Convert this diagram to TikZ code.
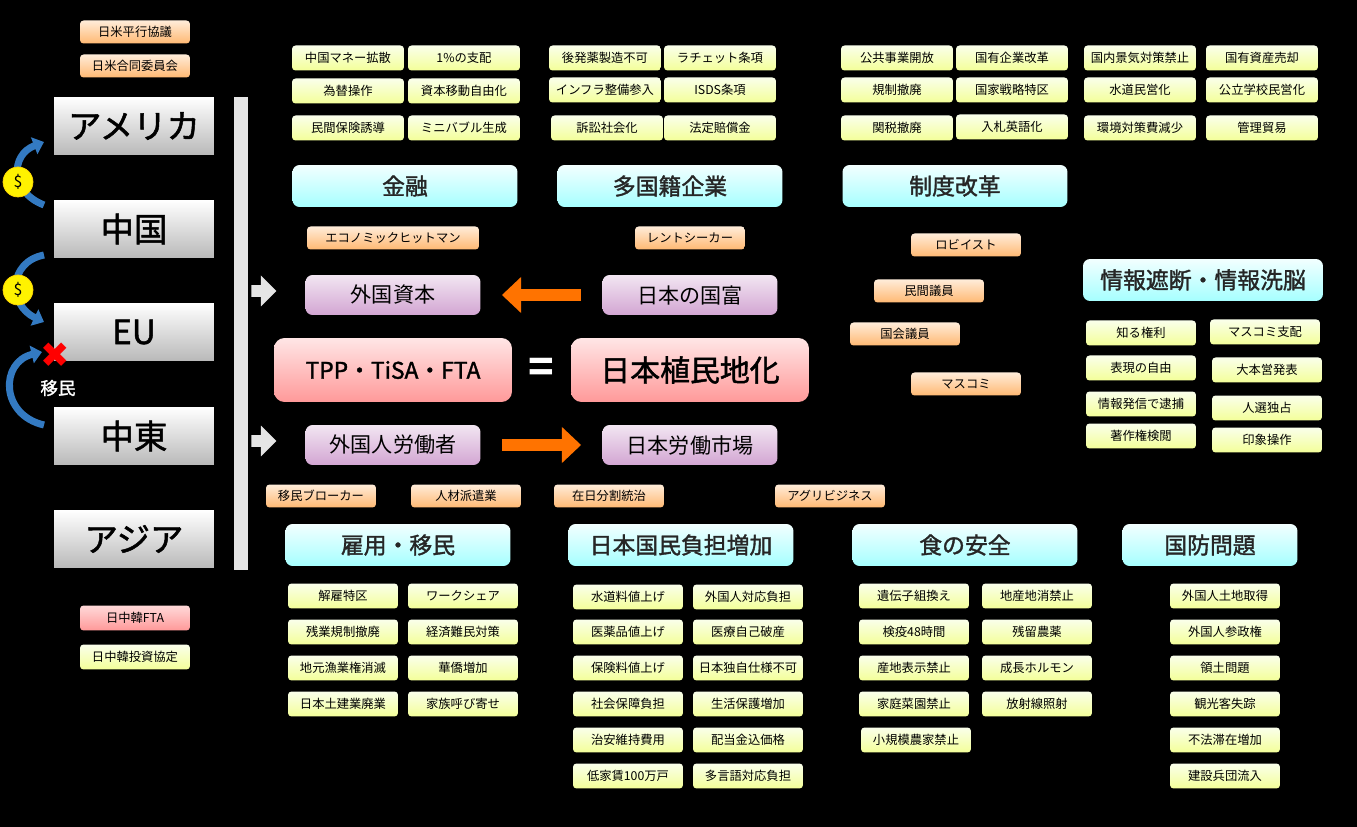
\documentclass[tikz,border=0pt]{standalone}
\usepackage{fontspec}
\setmainfont{Noto Sans CJK JP}
\newfontfamily\jpbold[FakeBold=1.5]{Noto Sans CJK JP}
\newfontfamily\dejavu{DejaVu Sans}
\usetikzlibrary{arrows.meta,shapes.arrows}
\tikzset{
	box/.style={rounded corners=2pt, minimum height=0.5cm, minimum width=2.24cm, inner sep=0pt, font=\fontsize{7}{7}\selectfont, text=black},
	item/.style={box, top color=lime!8!white, bottom color=lime!45!yellow!40},
	actor/.style={box, minimum width=2.2cm, minimum height=0.46cm, top color=orange!15, bottom color=orange!55},
	topic/.style={rounded corners=4pt, minimum width=4.5cm, minimum height=0.84cm, top color=cyan!5, bottom color=cyan!35, font=\jpbold\fontsize{13}{13}\selectfont, text=black!85},
	side/.style={rounded corners=4pt, minimum width=3.5cm, minimum height=0.8cm, top color=violet!10, bottom color=violet!35, font=\fontsize{12}{12}\selectfont},
	big/.style={rounded corners=6pt, minimum width=4.76cm, minimum height=1.28cm, top color=red!10, bottom color=red!40, font=\jpbold\fontsize{13}{13}\selectfont},
	nation/.style={minimum width=3.2cm, minimum height=1.16cm, top color=white, bottom color=gray!55, font=\jpbold\fontsize{19}{19}\selectfont},
	coin/.style={circle, fill=yellow, draw=yellow!70!orange, minimum size=0.6cm, inner sep=0pt, font=\fontsize{9}{9}\selectfont},
	flow/.style={-{Triangle[length=6pt,width=10pt]}, line width=4pt, color=blue!50!cyan!70!black!80},
	push/.style={-{Triangle[length=11pt,width=20pt]}, line width=7pt, orange!90!red, shorten >=12pt, shorten <=12pt},
	block/.style={single arrow, fill=gray!20, minimum height=0.5cm, minimum width=0.62cm, inner sep=1pt, single arrow head extend=2pt}
}
\begin{document}
\begin{tikzpicture}[x=0.02cm, y=-0.02cm]
	\fill[black] (0,0) rectangle (1357,827);
	\useasboundingbox (0,0) rectangle (1357,827);

	%left column
	\node[actor] (heiko) at (135,32){日米平行協議};
	\node[actor] (godo) at (135,66){日米合同委員会};
	\foreach \y/\t/\n in {126/アメリカ/us, 229/中国/cn, 332/EU/eu, 436/中東/me, 539/アジア/as}{
		\node[nation] (\n) at (134,\y){\t};
	}
	\node[box, minimum width=2.2cm, top color=red!15, bottom color=red!40] (fta) at (135,618){日中韓FTA};
	\node[item, minimum width=2.2cm] (invest) at (135,657){日中韓投資協定};
	\fill[gray!20] (234,97) rectangle (248,570);
	\node[block] (blk1) at (261,291){};
	\node[block] (blk2) at (261,441){};

	%money and migration
	\coordinate (a1) at (44,205);
	\coordinate (a2) at (44,142);
	\coordinate (a3) at (44,322);
	\coordinate (a4) at (44,255);
	\coordinate (a5) at (44,425);
	\coordinate (a6) at (42,352);
	\draw[flow] (a1) .. controls (10,192) and (10,155) .. (a2);
	\draw[flow] (a4) .. controls (8,262) and (8,305) .. (a3);
	\draw[flow] (a5) .. controls (0,415) and (0,362) .. (a6);
	\node[coin] (c1) at (18,182){\$};
	\node[coin] (c2) at (18,290){\$};
	\node[text=red, font=\dejavu\fontsize{20}{20}\selectfont] (ng) at (55,355){✖};
	\node[text=white, font=\jpbold\fontsize{10}{10}\selectfont] (imin) at (58,388){移民};

	%top items
	\foreach \x/\y/\t/\n in {
		348/58/中国マネー拡散/t1, 464/58/1\%の支配/t2, 605/58/後発薬製造不可/t3, 720/58/ラチェット条項/t4,
		897/58/公共事業開放/t5, 1012/58/国有企業改革/t6, 1140/58/国内景気対策禁止/t7, 1262/58/国有資産売却/t8,
		348/91/為替操作/t9, 464/91/資本移動自由化/t10, 605/90/インフラ整備参入/t11, 720/90/ISDS条項/t12,
		897/90/規制撤廃/t13, 1012/90/国家戦略特区/t14, 1140/90/水道民営化/t15, 1262/90/公立学校民営化/t16,
		348/128/民間保険誘導/t17, 464/128/ミニバブル生成/t18, 607/128/訴訟社会化/t19, 720/128/法定賠償金/t20,
		897/128/関税撤廃/t21, 1012/127/入札英語化/t22, 1140/128/環境対策費減少/t23, 1262/128/管理貿易/t24}{
		\node[item] (\n) at (\x,\y){\t};
	}

	%topics
	\node[topic] (kinyu) at (405,186){金融};
	\node[topic] (tako) at (670,186){多国籍企業};
	\node[topic] (seido) at (955,186){制度改革};
	\node[topic, minimum width=4.8cm] (joho) at (1203,280){情報遮断・情報洗脳};
	\node[topic] (koyo) at (398,545){雇用・移民};
	\node[topic] (futan) at (681,545){日本国民負担増加};
	\node[topic] (shoku) at (965,545){食の安全};
	\node[topic, minimum width=3.5cm] (kokubo) at (1210,545){国防問題};

	%actors
	\foreach \x/\y/\t/\n/\w in {393/238/エコノミックヒットマン/hit/3.44, 690/238/レントシーカー/rent/2.2,
		966/245/ロビイスト/lobby/2.2, 929/291/民間議員/mingi/2.2, 905/334/国会議員/kokkai/2.2,
		966/384/マスコミ/masu/2.2, 321/496/移民ブローカー/broker/2.2, 466/496/人材派遣業/haken/2.2,
		609/496/在日分割統治/bunkatsu/2.2, 830/496/アグリビジネス/agri/2.2}{
		\node[actor, minimum width=\w cm] (\n) at (\x,\y){\t};
	}

	%center
	\node[side] (gaishi) at (393,295){外国資本};
	\node[side] (kokufu) at (690,295){日本の国富};
	\node[side] (gairo) at (393,445){外国人労働者};
	\node[side] (shijo) at (690,445){日本労働市場};
	\draw[push] (kokufu) -- (gaishi);
	\draw[push] (gairo) -- (shijo);
	\node[big] (tpp) at (393,370){TPP・TiSA・FTA};
	\node[big, font=\jpbold\fontsize{17}{17}\selectfont] (shokumin) at (690,370){日本植民地化};
	\node[text=white, font=\bfseries\fontsize{24}{24}\selectfont] (eq) at (541,370){=};

	%info items
	\foreach \x/\y/\t/\n in {1141/333/知る権利/i1, 1141/368/表現の自由/i2, 1141/404/情報発信で逮捕/i3, 1141/436/著作権検閲/i4,
		1265/332/マスコミ支配/i5, 1267/370/大本営発表/i6, 1267/408/人選独占/i7, 1267/440/印象操作/i8}{
		\node[item, minimum width=2.2cm] (\n) at (\x,\y){\t};
	}

	%bottom items
	\foreach \x/\y/\t/\n in {
		343/596/解雇特区/b1, 463/596/ワークシェア/b2, 343/632/残業規制撤廃/b3, 463/632/経済難民対策/b4,
		343/668/地元漁業権消滅/b5, 463/668/華僑増加/b6, 343/704/日本土建業廃業/b7, 463/704/家族呼び寄せ/b8,
		628/597/水道料値上げ/b9, 748/597/外国人対応負担/b10, 628/632/医薬品値上げ/b11, 748/632/医療自己破産/b12,
		628/668/保険料値上げ/b13, 748/668/日本独自仕様不可/b14, 628/704/社会保障負担/b15, 748/704/生活保護増加/b16,
		628/740/治安維持費用/b17, 748/740/配当金込価格/b18, 628/776/低家賃100万戸/b19, 748/776/多言語対応負担/b20,
		914/596/遺伝子組換え/b21, 1037/596/地産地消禁止/b22, 914/632/検疫48時間/b23, 1037/632/残留農薬/b24,
		914/668/産地表示禁止/b25, 1037/668/成長ホルモン/b26, 914/704/家庭菜園禁止/b27, 1037/704/放射線照射/b28,
		916/740/小規模農家禁止/b29,
		1225/596/外国人土地取得/b30, 1225/632/外国人参政権/b31, 1225/668/領土問題/b32,
		1225/704/観光客失踪/b33, 1225/740/不法滞在増加/b34, 1225/776/建設兵団流入/b35}{
		\node[item, minimum width=2.2cm] (\n) at (\x,\y){\t};
	}
\end{tikzpicture}
\end{document}
